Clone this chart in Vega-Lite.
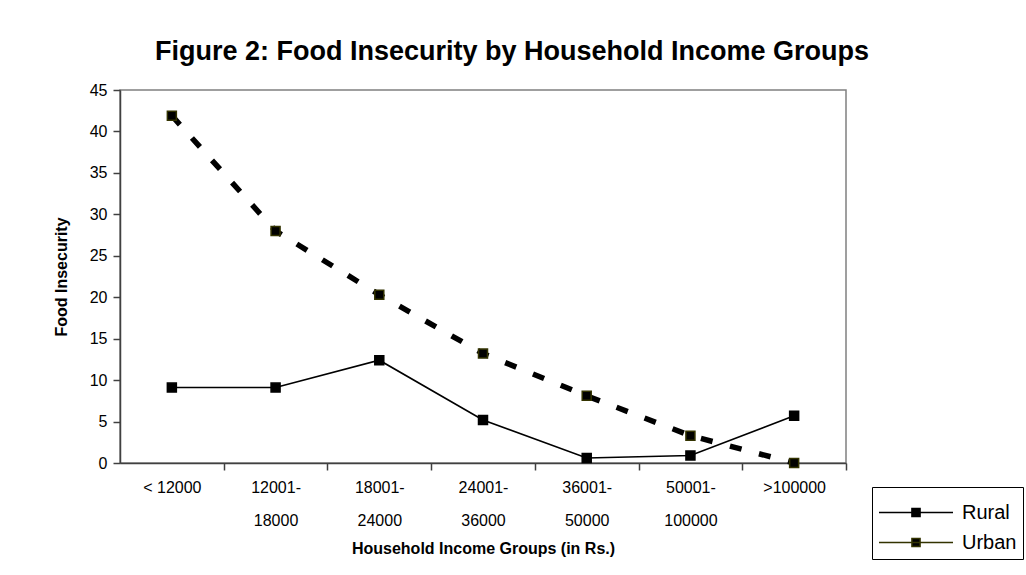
{
  "$schema": "https://vega.github.io/schema/vega-lite/v6.json",
  "width": 726,
  "height": 373,
  "autosize": {"type": "none"},
  "padding": {"left": 120, "top": 90, "right": 180, "bottom": 112},
  "background": "white",
  "title": {
    "text": "Figure 2: Food Insecurity by Household Income Groups",
    "font": "Liberation Sans",
    "fontSize": 27,
    "fontWeight": "bold",
    "color": "black",
    "anchor": "middle",
    "dx": 29,
    "offset": 16
  },
  "data": {
    "values": [
      {"group": "< 12000", "area": "Rural", "value": 9.1},
      {"group": "12001-18000", "area": "Rural", "value": 9.1},
      {"group": "18001-24000", "area": "Rural", "value": 12.4},
      {"group": "24001-36000", "area": "Rural", "value": 5.2},
      {"group": "36001-50000", "area": "Rural", "value": 0.6},
      {"group": "50001-100000", "area": "Rural", "value": 0.9},
      {"group": ">100000", "area": "Rural", "value": 5.7},
      {"group": "< 12000", "area": "Urban", "value": 41.9},
      {"group": "12001-18000", "area": "Urban", "value": 28.0},
      {"group": "18001-24000", "area": "Urban", "value": 20.3},
      {"group": "24001-36000", "area": "Urban", "value": 13.2},
      {"group": "36001-50000", "area": "Urban", "value": 8.1},
      {"group": "50001-100000", "area": "Urban", "value": 3.3},
      {"group": ">100000", "area": "Urban", "value": 0}
    ]
  },
  "encoding": {
    "x": {
      "field": "group",
      "type": "nominal",
      "sort": null,
      "axis": {
        "title": "Household Income Groups (in Rs.)",
        "labelAngle": 0,
        "labelExpr": "indexof(datum.value,'-')>0 ? [slice(datum.value,0,indexof(datum.value,'-')+1), slice(datum.value,indexof(datum.value,'-')+1)] : datum.value",
        "labelLineHeight": 33,
        "labelPadding": 9,
        "labelBaseline": "top",
        "tickOffset": 51.86,
        "labelOffset": -51.86,
        "titlePadding": 12
      }
    },
    "y": {
      "field": "value",
      "type": "quantitative",
      "scale": {"domain": [0, 45], "nice": false},
      "axis": {"title": "Food Insecurity", "values": [0,5,10,15,20,25,30,35,40,45], "titlePadding": 20}
    }
  },
  "layer": [
    {
      "transform": [{"filter": "datum.area === 'Rural'"}],
      "mark": {"type": "line", "color": "black", "strokeWidth": 1.6},
      "encoding": {}
    },
    {
      "transform": [{"filter": "datum.area === 'Urban'"}],
      "mark": {"type": "line", "color": "black", "strokeWidth": 5.5, "strokeDash": [12, 18]},
      "encoding": {}
    },
    {
      "mark": {"type": "point", "shape": "square", "filled": true, "size": 81, "opacity": 1, "fill": "black", "strokeWidth": 1.5},
      "encoding": {
        "stroke": {
          "field": "area", "type": "nominal",
          "scale": {"domain": ["Rural", "Urban"], "range": ["black", "#333300"]},
          "legend": {
            "title": null,
            "orient": "none",
            "legendX": 752,
            "legendY": 397,
            "symbolType": "M-1,0H3M0.78,-0.22H1.22V0.22H0.78Z",
            "symbolSize": 1369,
            "symbolStrokeColor": "black",
            "encode": {
              "symbols": {
                "update": {
                  "strokeWidth": {"signal": "datum.value === 'Urban' ? 5 : 1.6"},
                  "strokeDash": {"signal": "datum.value === 'Urban' ? [12, 18] : [1, 0]"},
                  "stroke": {"value": "black"},
                  "fill": {"value": "black"}
                }
              }
            }
          }
        }
      }
    }
  ],
  "config": {
    "font": "Liberation Sans",
    "view": {"stroke": "#808080", "strokeWidth": 1.5},
    "axis": {
      "labelFont": "Liberation Sans",
      "labelFontSize": 16,
      "labelColor": "black",
      "titleFont": "Liberation Sans",
      "titleFontSize": 16,
      "titleFontWeight": "bold",
      "titleColor": "black",
      "domainColor": "#404040",
      "domainWidth": 1.5,
      "tickColor": "#404040",
      "tickWidth": 1.5,
      "tickSize": 7,
      "grid": false
    },
    "axisY": {"labelPadding": 6},
    "legend": {
      "strokeColor": "black",
      "padding": 6,
      "labelFont": "Liberation Sans",
      "labelFontSize": 20,
      "labelColor": "black",
      "labelOffset": 45,
      "rowPadding": 0
    }
  }
}
